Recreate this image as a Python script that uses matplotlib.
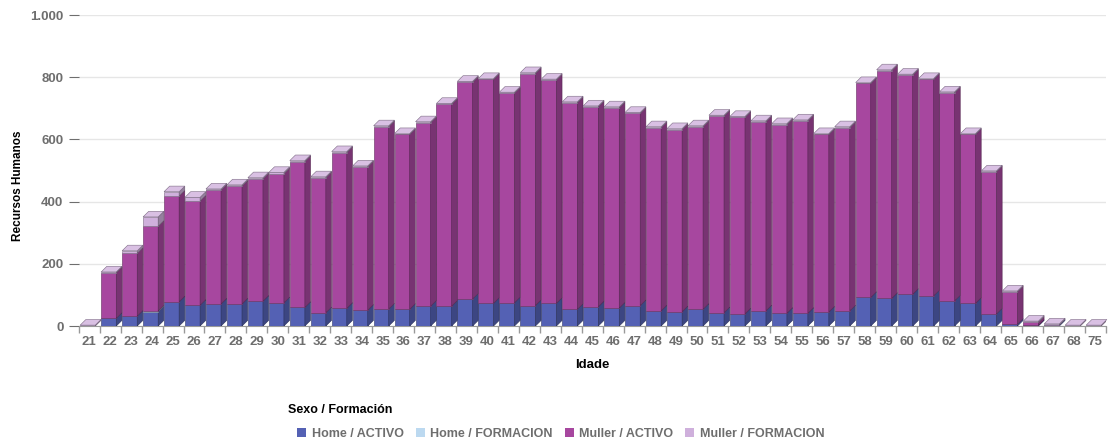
"""Recursos Humanos por idade: barras apiladas con efecto 3D."""
import numpy as np
import matplotlib
matplotlib.use("Agg")
import matplotlib.pyplot as plt
from matplotlib.patches import Polygon, Patch
from matplotlib.colors import to_rgb

plt.rcParams["font.family"] = ["Liberation Sans", "DejaVu Sans"]

ages = [21, 22, 23, 24, 25, 26, 27, 28, 29, 30, 31, 32, 33, 34, 35, 36, 37, 38,
        39, 40, 41, 42, 43, 44, 45, 46, 47, 48, 49, 50, 51, 52, 53, 54, 55, 56,
        57, 58, 59, 60, 61, 62, 63, 64, 65, 66, 67, 68, 75]
home_activo = [0, 25, 32, 46, 78, 67, 71, 71, 80, 75, 60, 43, 57, 51, 55, 54, 64, 64,
               87, 73, 75, 66, 73, 54, 62, 58, 66, 49, 46, 54, 43, 39, 49, 41, 41, 45,
               49, 92, 89, 102, 97, 81, 73, 39, 6, 2, 3, 0, 0]
home_formacion = [0, 0, 0, 2, 0, 0, 0, 0, 0, 0, 0, 0, 0, 0, 0, 0, 0, 0,
                  0, 0, 0, 0, 0, 0, 0, 0, 0, 0, 0, 0, 0, 0, 0, 0, 0, 0,
                  0, 0, 0, 0, 0, 0, 0, 0, 0, 0, 0, 0, 0]
muller_activo = [0, 147, 202, 273, 340, 335, 366, 379, 393, 415, 469, 434, 501, 461, 586, 562, 590, 649,
                 697, 720, 674, 746, 718, 664, 643, 644, 618, 589, 586, 587, 632, 632, 608, 607, 619, 571,
                 589, 688, 732, 705, 696, 669, 543, 457, 104, 10, 0, 0, 0]
muller_formacion = [3, 2, 8, 30, 14, 12, 4, 4, 4, 4, 3, 3, 3, 3, 3, 3, 3, 3,
                    3, 3, 3, 3, 3, 3, 3, 3, 3, 3, 3, 3, 3, 3, 3, 3, 3, 3,
                    3, 3, 3, 3, 3, 3, 3, 3, 3, 4, 4, 3, 3]

series = [
    ("Home / ACTIVO", home_activo, "#5461b4"),
    ("Home / FORMACION", home_formacion, "#bcd9f0"),
    ("Muller / ACTIVO", muller_activo, "#a7479f"),
    ("Muller / FORMACION", muller_formacion, "#cfb0dc"),
]

GRAY = "#6e6e6e"
WIDTH = 0.72     # cara frontal
DX = 0.27        # profundidade en x (unidades de categoría)
DY = 18          # profundidade en y (unidades de datos)


def shade(c, f):
    r = np.array(to_rgb(c))
    if f < 1:
        return tuple(r * f)
    return tuple(r + (1 - r) * (f - 1))


fig = plt.figure(figsize=(11.09, 4.43), dpi=100)
ax = fig.add_axes([0.071, 0.264, 0.926, 0.702])

x = np.arange(len(ages))
left = x - 0.43
bottom = np.zeros(len(ages))
top_color = [None] * len(ages)

for name, vals, col in series:
    vals = np.array(vals, dtype=float)
    ax.bar(left, vals, width=WIDTH, bottom=bottom, align="edge", color=col,
           edgecolor=shade(col, 0.6), linewidth=0.4, zorder=3)
    side = shade(col, 0.72)
    for i in range(len(ages)):
        if vals[i] <= 0:
            continue
        xr = left[i] + WIDTH
        y0, y1 = bottom[i], bottom[i] + vals[i]
        ax.add_patch(Polygon([(xr, y0), (xr + DX, y0 + DY), (xr + DX, y1 + DY), (xr, y1)],
                             closed=True, facecolor=side, edgecolor=shade(col, 0.5),
                             linewidth=0.4, zorder=3))
        top_color[i] = col
    bottom = bottom + vals

# caras superiores
for i in range(len(ages)):
    if top_color[i] is None:
        continue
    xl, xr, yt = left[i], left[i] + WIDTH, bottom[i]
    ax.add_patch(Polygon([(xl, yt), (xl + DX, yt + DY), (xr + DX, yt + DY), (xr, yt)],
                         closed=True, facecolor=shade(top_color[i], 1.2),
                         edgecolor=shade(top_color[i], 0.6), linewidth=0.4, zorder=4,
                         clip_on=False))

ax.set_xlim(-0.5, len(ages) - 0.5)
ax.set_ylim(0, 1000)
ax.set_yticks([0, 200, 400, 600, 800, 1000])
ax.set_yticklabels(["0", "200", "400", "600", "800", "1.000"])
ax.set_xticks(x)
ax.set_xticklabels([str(a) for a in ages])
ax.set_xticks(np.arange(len(ages) + 1) - 0.5, minor=True)

ax.tick_params(axis="x", which="major", length=0, pad=7, colors=GRAY, labelsize=9.5)
ax.tick_params(axis="x", which="minor", length=5, color="#999999", width=1)
ax.tick_params(axis="y", length=7, pad=4, color=GRAY, colors=GRAY, labelsize=9.5)
for lab in ax.get_xticklabels() + ax.get_yticklabels():
    lab.set_fontweight("bold")

for s in ["top", "right", "left"]:
    ax.spines[s].set_visible(False)
ax.spines["bottom"].set_color("#9a9a9a")
ax.yaxis.grid(True, color="#e6e6e6", linewidth=1, zorder=0)
ax.set_axisbelow(True)

ax.set_xlabel("Idade", fontsize=9.5, fontweight="bold", labelpad=8)
ax.set_ylabel("Recursos Humanos", fontsize=8.5, fontweight="bold")
ax.yaxis.set_label_coords(-0.0535, 0.45)

# lenda
fig.text(288 / 1109, 1 - 410 / 443, "Sexo / Formación", fontsize=9, fontweight="bold",
         color="black", ha="left", va="center")
handles = [Patch(facecolor=c, edgecolor="none") for _, _, c in series]
labels = [n for n, _, _ in series]
leg = fig.legend(handles, labels, loc="center left", bbox_to_anchor=(297 / 1109, 1 - 434 / 443),
                 ncol=4, frameon=False, prop={"weight": "bold", "size": 9},
                 handlelength=0.72, handleheight=0.72, handletextpad=0.45,
                 columnspacing=0.95, borderpad=0, borderaxespad=0)
for t in leg.get_texts():
    t.set_color(GRAY)

fig.savefig("out.png", dpi=100)
